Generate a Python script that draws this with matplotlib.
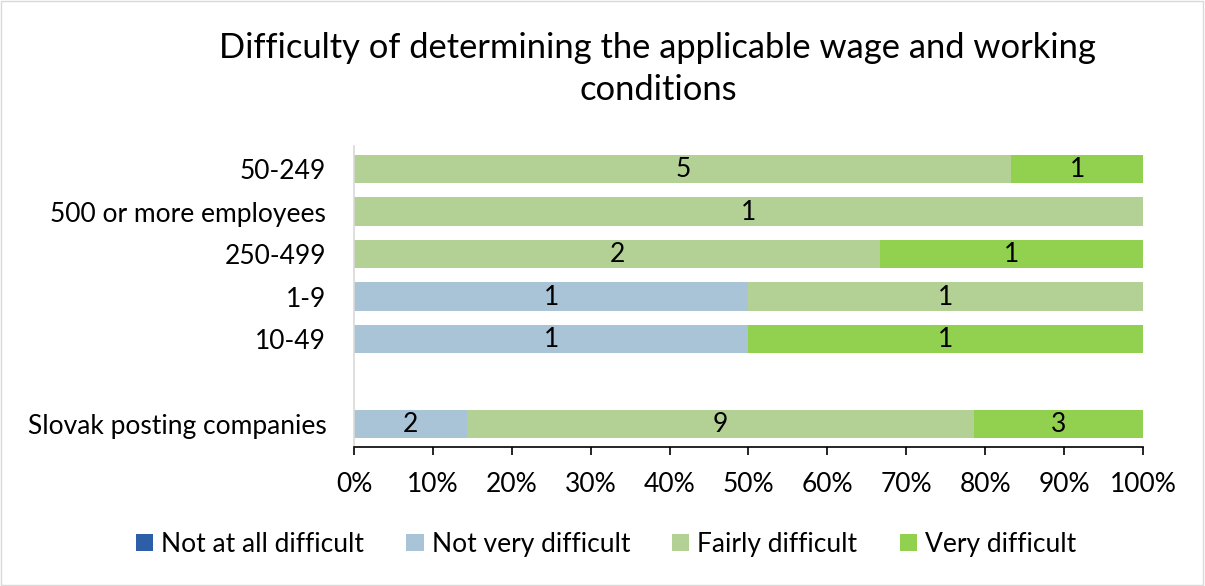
import matplotlib
matplotlib.use("Agg")
import matplotlib.pyplot as plt
import numpy as np
from matplotlib.patches import Rectangle

categories = ["Slovak posting companies", "", "10-49", "1-9", "250-499", "500 or more employees", "50-249"]
series_names = ["Not at all difficult", "Not very difficult", "Fairly difficult", "Very difficult"]
not_at_all = [0, 0, 0, 0, 0, 0, 0]
not_very = [2, 0, 1, 1, 0, 0, 0]
fairly = [9, 0, 0, 1, 2, 1, 5]
very = [3, 0, 1, 0, 1, 0, 1]
colors = ["#2F5EA8", "#A9C4D7", "#B3D194", "#92D050"]
xticks = [0, 10, 20, 30, 40, 50, 60, 70, 80, 90, 100]

plt.rcParams['font.family'] = ['Lato', 'DejaVu Sans']
FS = 19

fig = plt.figure(figsize=(12.05, 5.86), dpi=100)
ax = fig.add_axes([0.2938, 0.2365, 0.9485 - 0.2938, 0.7515 - 0.2365])

data = np.array([not_at_all, not_very, fairly, very], dtype=float)
totals = data.sum(axis=0)
y = np.arange(len(categories))
left = np.zeros(len(categories))
for i, name in enumerate(series_names):
    vals = data[i]
    pct = np.where(totals > 0, vals / np.where(totals > 0, totals, 1) * 100, 0)
    ax.barh(y, pct, left=left, height=0.66, color=colors[i], label=name)
    for j in range(len(categories)):
        if vals[j] > 0:
            ax.text(left[j] + pct[j] / 2, y[j] - 0.02, f"{int(vals[j])}", ha="center", va="center",
                    fontsize=FS, color="black")
    left += pct

ax.set_xlim(0, 100)
ax.set_ylim(-0.55, len(categories) - 0.45)
ax.set_yticks(y)
ax.set_yticklabels(categories, fontsize=FS)
ax.set_xticks(xticks)
ax.set_xticklabels([f"{t}%" for t in xticks], fontsize=FS)
ax.tick_params(axis="y", length=0, pad=20)
ax.tick_params(axis="x", direction="out", length=6, width=1.2, color="black", pad=12)
for s in ["top", "right"]:
    ax.spines[s].set_visible(False)
ax.spines["left"].set_color("#D9D9D9")
ax.spines["left"].set_linewidth(1.2)
ax.spines["bottom"].set_color("black")
ax.spines["bottom"].set_linewidth(1.2)

fig.text(0.546, 0.882, "Difficulty of determining the applicable wage and working\nconditions",
         ha="center", va="center", fontsize=24.8, linespacing=1.4)

handles, labels = ax.get_legend_handles_labels()
leg = fig.legend(handles, labels, loc="center", bbox_to_anchor=(0.503, 0.071), ncol=4,
                 frameon=False, fontsize=FS, handlelength=0.65, handleheight=0.65,
                 handletextpad=0.3, columnspacing=1.6)

fig.patches.append(Rectangle((0.001, 0.002), 0.997, 0.996, transform=fig.transFigure,
                             fill=False, edgecolor="#D9D9D9", linewidth=1))

fig.savefig("out.png", dpi=100)
